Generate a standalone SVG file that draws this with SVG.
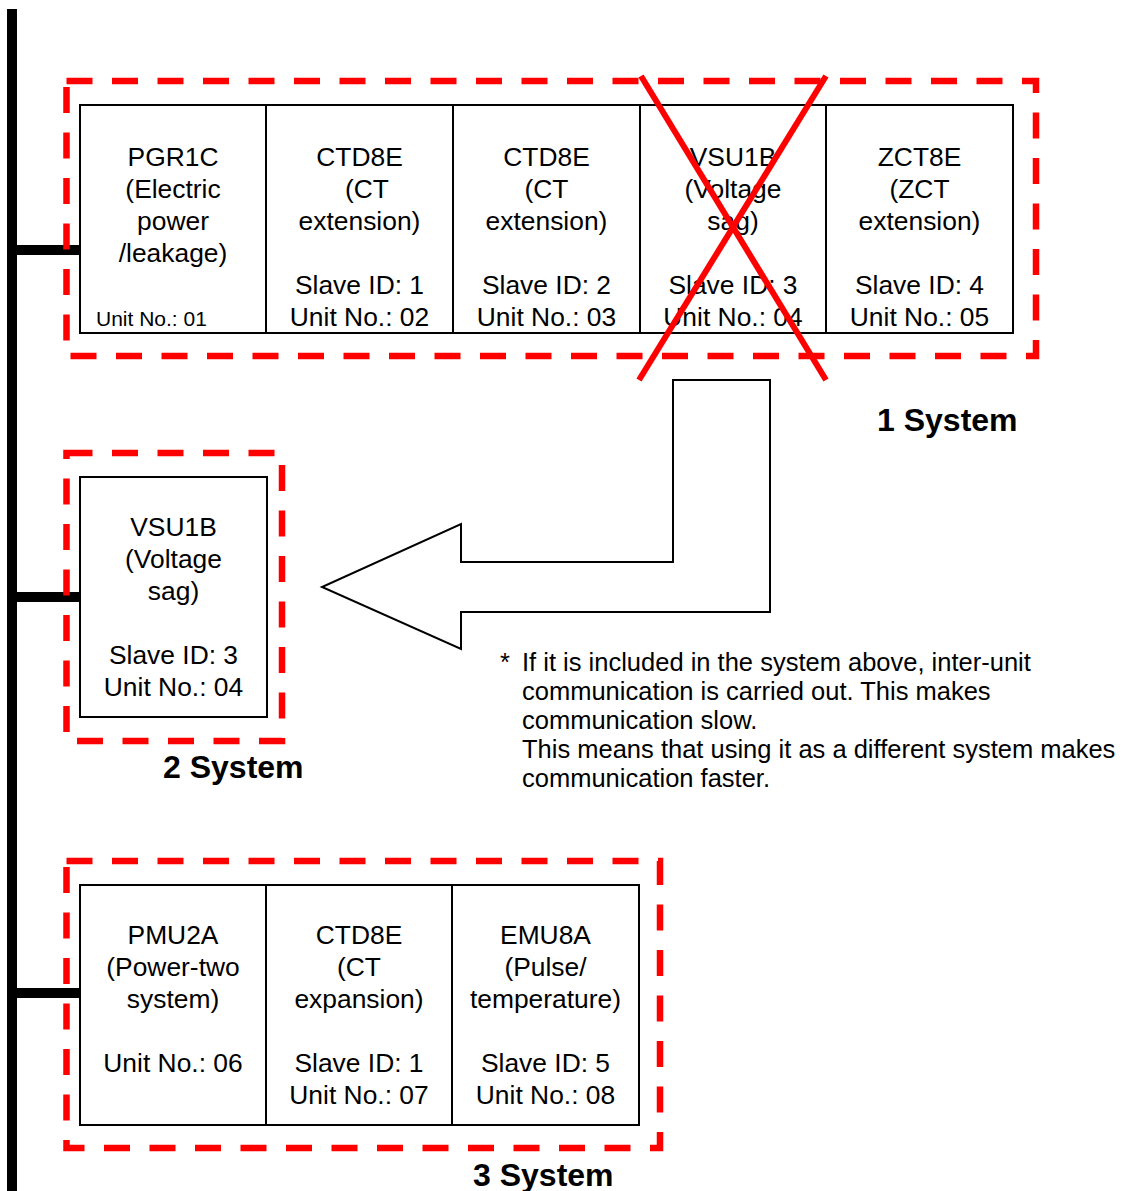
<svg xmlns="http://www.w3.org/2000/svg" width="1127" height="1191" viewBox="0 0 1127 1191">
<style>
  .t { font-family: "Liberation Sans", Arial, sans-serif; font-size: 26.4px; fill: #000; text-anchor: middle; }
  .small { font-family: "Liberation Sans", Arial, sans-serif; font-size: 21px; fill: #000; }
  .lbl { font-family: "Liberation Sans", Arial, sans-serif; font-size: 32px; font-weight: bold; fill: #000; }
  .note { font-family: "Liberation Sans", Arial, sans-serif; font-size: 25.5px; fill: #000; }
  .cell { fill: #fff; stroke: #000; stroke-width: 2; }
  .grp { fill: none; stroke: #ff0000; stroke-width: 6.5; stroke-dasharray: 26 19.5; }
  .bus { stroke: #000; stroke-width: 10; fill: none; }
  .xline { stroke: #ff0000; stroke-width: 6; }
</style>
<rect width="1127" height="1191" fill="#fff"/>

<g id="connectors">
  <line class="bus" x1="12" y1="9" x2="12" y2="1191"/>
  <line class="bus" x1="12" y1="250" x2="80" y2="250"/>
  <line class="bus" x1="12" y1="597" x2="80" y2="597"/>
  <line class="bus" x1="12" y1="993" x2="80" y2="993"/>
</g>

<g id="system1">
  <g id="s1-pgr1c">
    <rect class="cell" x="80" y="105" width="186" height="228"/>
    <text class="t" x="173" y="166">PGR1C</text>
    <text class="t" x="173" y="198">(Electric</text>
    <text class="t" x="173" y="230">power</text>
    <text class="t" x="173" y="262">/leakage)</text>
    <text class="small" x="96" y="326">Unit No.: 01</text>
  </g>
  <g id="s1-ctd8e-1">
    <rect class="cell" x="266" y="105" width="187" height="228"/>
    <text class="t" x="359.5" y="166">CTD8E</text>
    <text class="t" x="367" y="198">(CT</text>
    <text class="t" x="359.5" y="230">extension)</text>
    <text class="t" x="359.5" y="294">Slave ID: 1</text>
    <text class="t" x="359.5" y="326">Unit No.: 02</text>
  </g>
  <g id="s1-ctd8e-2">
    <rect class="cell" x="453" y="105" width="187" height="228"/>
    <text class="t" x="546.5" y="166">CTD8E</text>
    <text class="t" x="546.5" y="198">(CT</text>
    <text class="t" x="546.5" y="230">extension)</text>
    <text class="t" x="546.5" y="294">Slave ID: 2</text>
    <text class="t" x="546.5" y="326">Unit No.: 03</text>
  </g>
  <g id="s1-vsu1b">
    <rect class="cell" x="640" y="105" width="186" height="228"/>
    <text class="t" x="733" y="166">VSU1B</text>
    <text class="t" x="733" y="198">(Voltage</text>
    <text class="t" x="733" y="230">sag)</text>
    <text class="t" x="733" y="294">Slave ID: 3</text>
    <text class="t" x="733" y="326">Unit No.: 04</text>
  </g>
  <g id="s1-zct8e">
    <rect class="cell" x="826" y="105" width="187" height="228"/>
    <text class="t" x="919.5" y="166">ZCT8E</text>
    <text class="t" x="919.5" y="198">(ZCT</text>
    <text class="t" x="919.5" y="230">extension)</text>
    <text class="t" x="919.5" y="294">Slave ID: 4</text>
    <text class="t" x="919.5" y="326">Unit No.: 05</text>
  </g>
  <rect id="s1-frame" class="grp" x="66.5" y="81" width="969.5" height="275"/>
  <g id="s1-cross">
    <line class="xline" x1="641" y1="76" x2="826" y2="380"/>
    <line class="xline" x1="826" y1="76" x2="639" y2="380"/>
  </g>
  <text class="lbl" x="877" y="431">1 System</text>
</g>

<g id="move-arrow">
  <polygon points="673,380 770,380 770,612 461,612 461,649 322,587 461,524 461,562 673,562" fill="#fff" stroke="#000" stroke-width="2"/>
</g>

<g id="system2">
  <g id="s2-vsu1b">
    <rect class="cell" x="80" y="477" width="187" height="240"/>
    <text class="t" x="173.5" y="536">VSU1B</text>
    <text class="t" x="173.5" y="568">(Voltage</text>
    <text class="t" x="173.5" y="600">sag)</text>
    <text class="t" x="173.5" y="664">Slave ID: 3</text>
    <text class="t" x="173.5" y="696">Unit No.: 04</text>
  </g>
  <rect id="s2-frame" class="grp" x="66.5" y="453" width="215.5" height="288"/>
  <text class="lbl" x="163" y="778">2 System</text>
</g>

<g id="note">
  <text class="note" x="500" y="671">*</text>
  <text class="note" x="522" y="671">If it is included in the system above, inter-unit</text>
  <text class="note" x="522" y="700">communication is carried out. This makes</text>
  <text class="note" x="522" y="729">communication slow.</text>
  <text class="note" x="522" y="758">This means that using it as a different system makes</text>
  <text class="note" x="522" y="787">communication faster.</text>
</g>

<g id="system3">
  <g id="s3-pmu2a">
    <rect class="cell" x="80" y="885" width="186" height="240"/>
    <text class="t" x="173" y="944">PMU2A</text>
    <text class="t" x="173" y="976">(Power-two</text>
    <text class="t" x="173" y="1008">system)</text>
    <text class="t" x="173" y="1072">Unit No.: 06</text>
  </g>
  <g id="s3-ctd8e">
    <rect class="cell" x="266" y="885" width="186" height="240"/>
    <text class="t" x="359" y="944">CTD8E</text>
    <text class="t" x="359" y="976">(CT</text>
    <text class="t" x="359" y="1008">expansion)</text>
    <text class="t" x="359" y="1072">Slave ID: 1</text>
    <text class="t" x="359" y="1104">Unit No.: 07</text>
  </g>
  <g id="s3-emu8a">
    <rect class="cell" x="452" y="885" width="187" height="240"/>
    <text class="t" x="545.5" y="944">EMU8A</text>
    <text class="t" x="545.5" y="976">(Pulse/</text>
    <text class="t" x="545.5" y="1008">temperature)</text>
    <text class="t" x="545.5" y="1072">Slave ID: 5</text>
    <text class="t" x="545.5" y="1104">Unit No.: 08</text>
  </g>
  <rect id="s3-frame" class="grp" x="66.5" y="861" width="593.5" height="287"/>
  <text class="lbl" x="473" y="1186">3 System</text>
</g>
</svg>
